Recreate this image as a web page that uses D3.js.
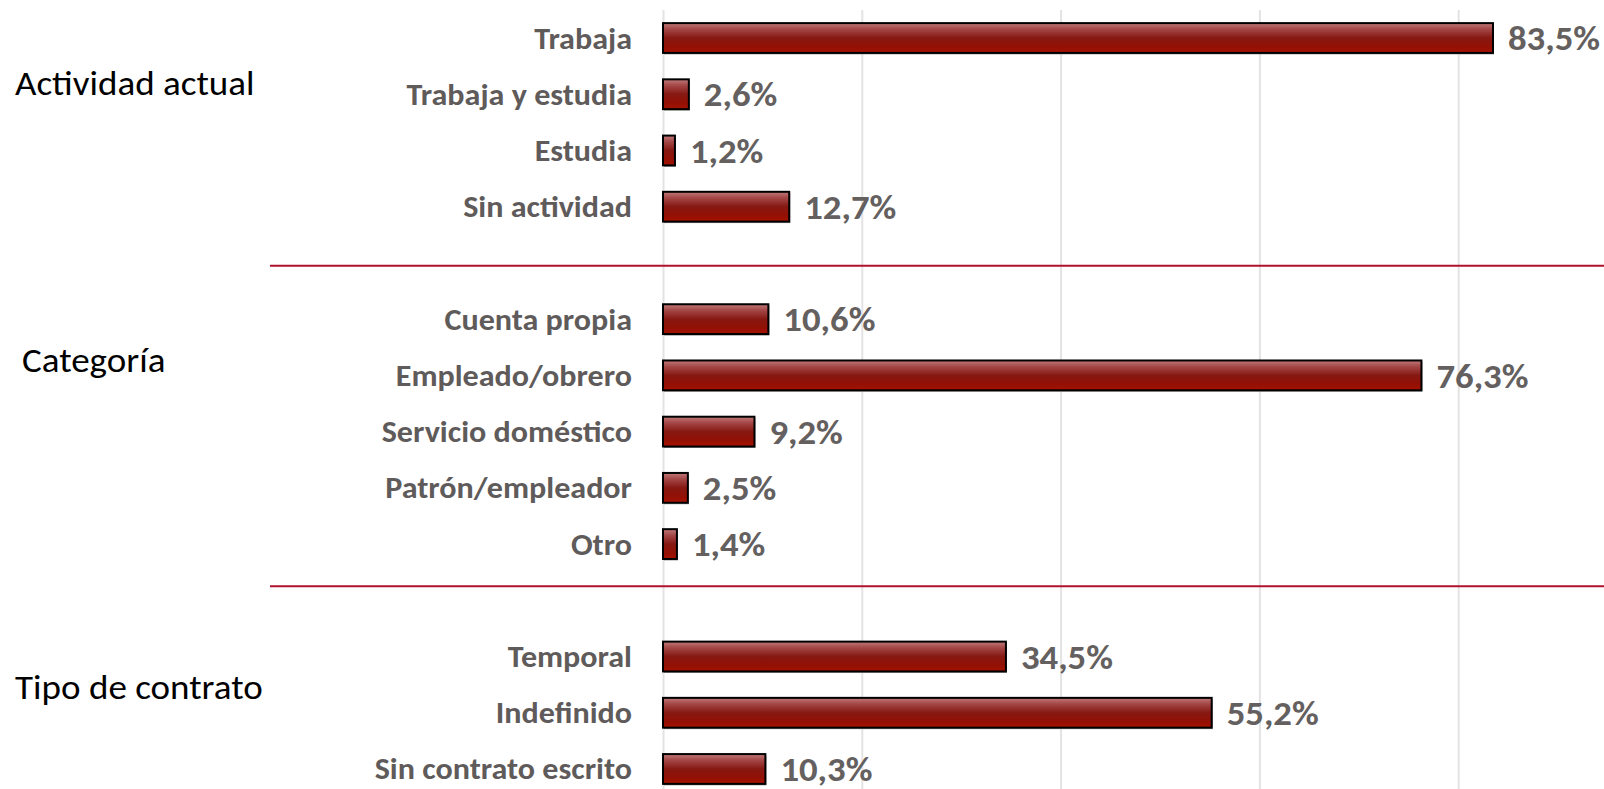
<!DOCTYPE html>
<html lang="es">
<head>
<meta charset="utf-8">
<title>Actividad, categoría y tipo de contrato</title>
<script src="https://d3js.org/d3.v7.min.js"></script>
<style>
  body { margin: 0; background: #fff; }
  .grid line { stroke: #e3e3e3; stroke-width: 2px; }
  .grid path { display: none; }
  .cat { font-family: Carlito, Lato, "Open Sans", sans-serif; font-weight: bold; font-size: 30px; fill: #5f5b5b; }
  .val { font-family: Carlito, Lato, "Open Sans", sans-serif; font-weight: bold; font-size: 34px; fill: #646060; }
  .grp { font-family: Carlito, Lato, "Open Sans", sans-serif; font-size: 34px; fill: #000; }
</style>
</head>
<body>
<div id="chart"></div>
<script>
// data
var groups = ["Actividad actual", "Categoría", "Tipo de contrato"]
var categories = ["Trabaja", "Trabaja y estudia", "Estudia", "Sin actividad",
  "Cuenta propia", "Empleado/obrero", "Servicio doméstico", "Patrón/empleador", "Otro",
  "Temporal", "Indefinido", "Sin contrato escrito"]
var values = [83.5, 2.6, 1.2, 12.7, 10.6, 76.3, 9.2, 2.5, 1.4, 34.5, 55.2, 10.3]
var groupIndex = [0, 0, 0, 0, 1, 1, 1, 1, 1, 2, 2, 2]
var xTicks = [0, 20, 40, 60, 80, 100]

// layout
var w = 1604, h = 789
var x0 = 663
var groupLabelShift = [0.8, 0.73, 0.54]   // in rows from group's first row
var groupLabelX = [15, 22, 15]
var separatorShift = [1.05, 0.75]          // in rows after group's last row
// horizontal stretch to get closer to the original (Calibri-like) widths
var sxCat = 1.07, sxVal = 1.08, sxGrp = 1.09

var data = categories.map(function(c, i) {
  return { cat: c, value: values[i], group: groupIndex[i] }
})

// rows with an empty slot between groups
var rows = []
groups.forEach(function(g, gi) {
  data.filter(function(d) { return d.group === gi }).forEach(function(d) { rows.push(d.cat) })
  if (gi < groups.length - 1) rows.push("gap" + gi)
})

var svg = d3.select("#chart").append("svg")
  .attr("width", w).attr("height", h)

var xScale = d3.scaleLinear().domain([0, 100]).range([x0, x0 + 994])

var yScale = d3.scaleBand().domain(rows)
  .range([9.9, 797.1])
  .paddingInner(0.47)
  .paddingOuter(0.235)

var step = yScale.step()
var bw = yScale.bandwidth()
function yc(key) { return yScale(key) + bw / 2 }

// gradient for bars
var grad = svg.append("defs").append("linearGradient")
  .attr("id", "barGrad").attr("x1", 0).attr("y1", 0).attr("x2", 0).attr("y2", 1)
grad.selectAll("stop")
  .data([[0, "#c27a7a"], [0.2, "#a44848"], [0.5, "#861812"], [0.8, "#931004"], [1, "#a81200"]])
  .enter().append("stop")
  .attr("offset", function(d) { return d[0] })
  .attr("stop-color", function(d) { return d[1] })

// gridlines
svg.append("g")
  .attr("class", "grid")
  .attr("transform", "translate(0," + h + ")")
  .call(d3.axisBottom(xScale).tickValues(xTicks).tickSize(-(h - 10)).tickFormat(""))

// separators
groups.slice(0, -1).forEach(function(g, gi) {
  var last = data.filter(function(d) { return d.group === gi }).slice(-1)[0].cat
  var y = yc(last) + separatorShift[gi] * step
  svg.append("line")
    .attr("x1", 270).attr("x2", w)
    .attr("y1", y).attr("y2", y)
    .attr("stroke", "#b0122e").attr("stroke-width", 2)
})

// bar shadows
svg.selectAll("rect.shadow")
  .data(data).enter().append("rect")
  .attr("class", "shadow")
  .attr("x", xScale(0) + 1)
  .attr("y", function(d) { return yScale(d.cat) + 1.5 })
  .attr("width", function(d) { return xScale(d.value) - xScale(0) })
  .attr("height", bw)
  .attr("fill", "#9a9a9a")

// bars
svg.selectAll("rect.bar")
  .data(data).enter().append("rect")
  .attr("class", "bar")
  .attr("x", xScale(0))
  .attr("y", function(d) { return yScale(d.cat) })
  .attr("width", function(d) { return xScale(d.value) - xScale(0) })
  .attr("height", bw)
  .attr("fill", "url(#barGrad)")
  .attr("stroke", "#000")
  .attr("stroke-width", 2)

// category labels
svg.selectAll("text.cat")
  .data(data).enter().append("text")
  .attr("class", "cat")
  .attr("transform", function(d) { return "translate(632," + yc(d.cat) + ") scale(" + sxCat + ",1)" })
  .attr("dy", "0.35em")
  .attr("text-anchor", "end")
  .text(function(d) { return d.cat })

// value labels
var fmt = function(v) { return v.toFixed(1).replace(".", ",") + "%" }
svg.selectAll("text.val")
  .data(data).enter().append("text")
  .attr("class", "val")
  .attr("transform", function(d) {
    return "translate(" + (xScale(d.value) + 15) + "," + yc(d.cat) + ") scale(" + sxVal + ",1)"
  })
  .attr("dy", "0.36em")
  .text(function(d) { return fmt(d.value) })

// group labels
groups.forEach(function(g, gi) {
  var first = data.filter(function(d) { return d.group === gi })[0].cat
  svg.append("text")
    .attr("class", "grp")
    .attr("transform", "translate(" + groupLabelX[gi] + "," + (yc(first) + groupLabelShift[gi] * step) + ") scale(" + sxGrp + ",1)")
    .attr("dy", "0.35em")
    .text(g)
})
</script>
</body>
</html>
